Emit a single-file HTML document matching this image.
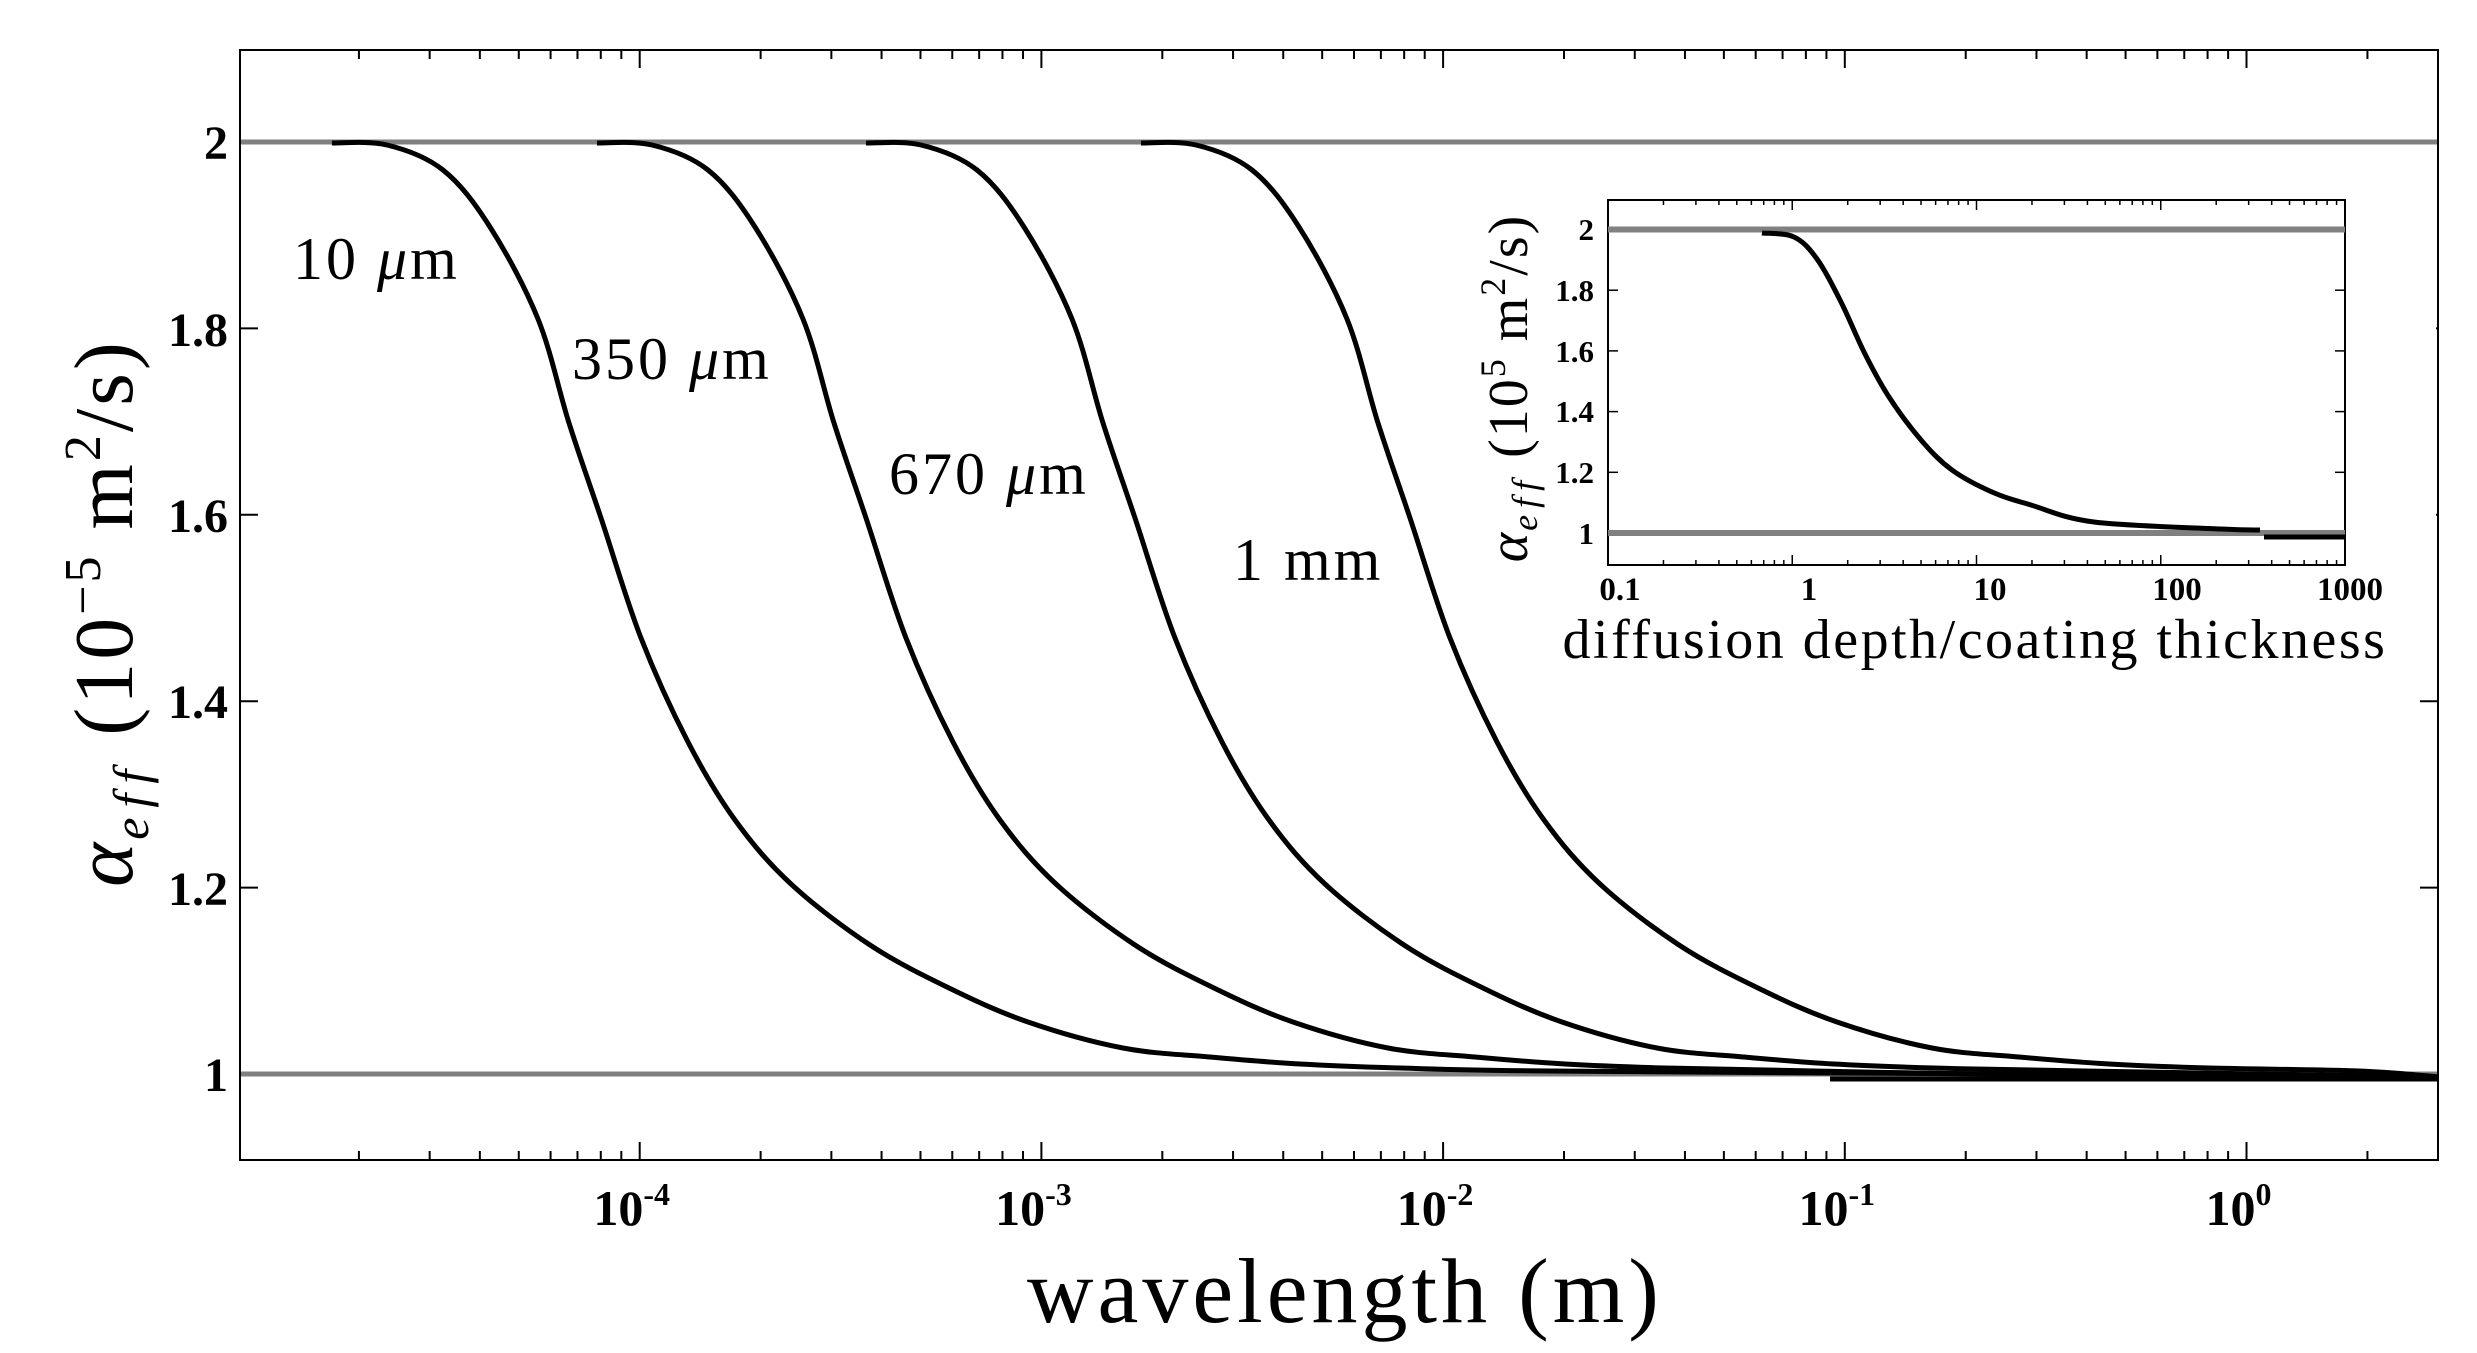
<!DOCTYPE html>
<html><head><meta charset="utf-8"><style>
html,body{margin:0;padding:0;background:#fff;}
svg{display:block;}
text{font-family:"Liberation Serif",serif;fill:#000;}
.b{font-weight:bold;}
</style></head><body>
<svg id="s" width="2477" height="1353" viewBox="0 0 2477 1353" xmlns="http://www.w3.org/2000/svg">
<defs><clipPath id="c"><rect x="240" y="50" width="2198" height="1110"/></clipPath>
<clipPath id="c2"><rect x="1608" y="200" width="737" height="365"/></clipPath></defs>
<g id="ticks" stroke="#000" stroke-width="2"></g>
<line x1="240" y1="142" x2="2438" y2="142" stroke="#808080" stroke-width="5"/>
<line x1="240" y1="1074" x2="2438" y2="1074" stroke="#808080" stroke-width="5"/>
<g id="curves" clip-path="url(#c)" fill="none" stroke="#000" stroke-width="5" stroke-linejoin="round"></g>
<g class="b" font-size="48" text-anchor="end">
<text x="228" y="159">2</text><text x="228" y="346">1.8</text><text x="228" y="532">1.6</text>
<text x="228" y="718">1.4</text><text x="228" y="905">1.2</text><text x="228" y="1091">1</text>
</g>
<g class="b" font-size="50" text-anchor="middle" id="xl"></g>
<text x="1345" y="1322" font-size="92" letter-spacing="4" text-anchor="middle">wavelength (m)</text>
<text transform="translate(132,613) rotate(-90)" font-size="84" letter-spacing="3" text-anchor="middle"><tspan font-style="italic">α</tspan><tspan font-size="50" font-style="italic" letter-spacing="10" dy="16">eff</tspan><tspan dy="-16"> (10</tspan><tspan font-size="52" dy="-32">−5</tspan><tspan dy="32"> m</tspan><tspan font-size="52" dy="-32">2</tspan><tspan dy="32">/s)</tspan></text>
<g font-size="60" letter-spacing="3">
<text x="293" y="279">10 <tspan font-style="italic">μ</tspan>m</text>
<text x="572" y="379">350 <tspan font-style="italic">μ</tspan>m</text>
<text x="889" y="494">670 <tspan font-style="italic">μ</tspan>m</text>
<text x="1233" y="580">1 mm</text>
</g>
<!-- inset -->
<rect x="1540" y="175" width="896" height="500" fill="#fff"/>
<rect x="240" y="50" width="2198" height="1110" fill="none" stroke="#000" stroke-width="2"/>
<rect x="1608" y="200" width="737" height="365" fill="none" stroke="#000" stroke-width="2"/>
<g id="iticks" stroke="#000" stroke-width="1.5"></g>
<line x1="1608" y1="229.5" x2="2345" y2="229.5" stroke="#808080" stroke-width="6"/>
<line x1="1608" y1="533" x2="2345" y2="533" stroke="#808080" stroke-width="6"/>
<g id="ic" clip-path="url(#c2)" fill="none" stroke="#000" stroke-width="5" stroke-linejoin="round">
<line x1="2264" y1="537" x2="2345" y2="537"/>
</g>
<g class="b" font-size="31" text-anchor="end">
<text x="1594" y="240">2</text><text x="1594" y="301">1.8</text><text x="1594" y="362">1.6</text>
<text x="1594" y="422">1.4</text><text x="1594" y="483">1.2</text><text x="1594" y="544">1</text>
</g>
<g class="b" font-size="33" text-anchor="middle">
<text x="1620" y="600">0.1</text><text x="1809" y="600">1</text><text x="1990" y="600">10</text>
<text x="2177" y="600">100</text><text x="2350" y="600">1000</text>
</g>
<text x="1975" y="658" font-size="56" letter-spacing="2.5" text-anchor="middle">diffusion depth/coating thickness</text>
<text transform="translate(1527,388) rotate(-90)" font-size="56" letter-spacing="2" text-anchor="middle"><tspan font-style="italic">α</tspan><tspan font-size="36" font-style="italic" letter-spacing="7" dy="10">eff</tspan><tspan dy="-10"> (10</tspan><tspan font-size="36" dy="-22">5</tspan><tspan dy="22"> m</tspan><tspan font-size="36" dy="-22">2</tspan><tspan dy="22">/s)</tspan></text>
</svg>
<script>
var NS="http://www.w3.org/2000/svg";
function el(p,n,a){var e=document.createElementNS(NS,n);for(var k in a)e.setAttribute(k,a[k]);p.appendChild(e);return e;}
function smooth(P){var d="M"+P[0][0]+","+P[0][1];for(var i=0;i<P.length-1;i++){var p0=P[i-1]||P[i],p1=P[i],p2=P[i+1],p3=P[i+2]||P[i+1];
d+=" C"+(p1[0]+(p2[0]-p0[0])/6)+","+(p1[1]+(p2[1]-p0[1])/6)+" "+(p2[0]-(p3[0]-p1[0])/6)+","+(p2[1]-(p3[1]-p1[1])/6)+" "+p2[0]+","+p2[1];}return d;}
var T=document.getElementById("ticks");
var dec=401.7,x0=238;
function X(l){return x0+(l+5)*dec;}
for(var d=-5;d<=0;d++){for(var m=1;m<10;m++){var x=X(d+Math.log10(m));if(x<240||x>2438)continue;var L=m==1?18:9;
el(T,"line",{x1:x,y1:1160,x2:x,y2:1160-L});el(T,"line",{x1:x,y1:50,x2:x,y2:50+L});}}
for(var i=0;i<6;i++){var y=142+i*186.4;el(T,"line",{x1:240,y1:y,x2:258,y2:y});el(T,"line",{x1:2438,y1:y,x2:2420,y2:y});}
var XL=document.getElementById("xl");
[-4,-3,-2,-1,0].forEach(function(d){var t=el(XL,"text",{x:X(d)-8,y:1225});t.textContent="10";var s=el(t,"tspan",{dy:"-20","font-size":"32"});s.textContent=String(d);});
var IT=document.getElementById("iticks");
for(var d=-1;d<3;d++){for(var m=1;m<10;m++){var x=1608+(d+1+Math.log10(m))*184.25;var L=m==1?10:5;
el(IT,"line",{x1:x,y1:565,x2:x,y2:565-L});el(IT,"line",{x1:x,y1:200,x2:x,y2:200+L});}}
for(var i=0;i<6;i++){var y=229.5+i*60.7;el(IT,"line",{x1:1608,y1:y,x2:1618,y2:y});el(IT,"line",{x1:2345,y1:y,x2:2335,y2:y});}
var base=[[332,143],[387,145],[443,170],[490,227],[538,319],[569,423],[601,518],[641,638],[688,742],[735,820],[791,884],[870,945],[949,988],[1028,1022],[1123,1048],[1210,1057],[1300,1064],[1400,1068],[1550,1071]];
var C=document.getElementById("curves");
[0,265,534,809].forEach(function(s){var pts=base.map(function(p){return [p[0]+s,p[1]];});
var lx=1550+s;if(lx<2000)pts.push([2000,1074]);pts.push([2440,1077]);
el(C,"path",{d:smooth(pts)});});
el(C,"line",{x1:1830,y1:1079,x2:2438,y2:1079});
el(document.getElementById("ic"),"path",{d:smooth([[1762,233],[1794,237],[1817,259],[1841,302],[1865,354],[1889,397],[1921,440],[1952,470],[1992,492],[2031,505],[2094,522],[2221,529],[2260,530]])});
</script>
</body></html>
